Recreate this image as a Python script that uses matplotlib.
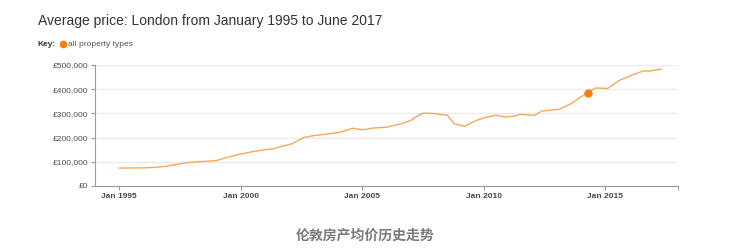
import matplotlib.pyplot as plt
from matplotlib.lines import Line2D
from matplotlib.ticker import FuncFormatter

# 年（小数）と平均価格
years = [1995.0, 1995.5, 1996.0, 1996.5, 1996.9, 1997.2, 1997.7, 1998.0, 1998.4,
         1999.0, 1999.5, 2000.0, 2000.5, 2001.0, 2001.3, 2001.6, 2002.1, 2002.6,
         2003.0, 2003.5, 2004.1, 2004.6, 2005.0, 2005.4, 2006.0, 2006.6, 2007.0,
         2007.2, 2007.5, 2007.9, 2008.5, 2008.8, 2009.2, 2009.7, 2010.1, 2010.5,
         2010.9, 2011.2, 2011.5, 2012.1, 2012.4, 2013.1, 2013.6, 2014.0, 2014.3,
         2014.6, 2015.1, 2015.6, 2016.2, 2016.6, 2016.8, 2017.3]
prices = [74000, 74500, 75000, 77000, 81000, 87000, 95000, 98000, 101000,
          105000, 120000, 132000, 142000, 150000, 153000, 162000, 174000, 201000,
          208000, 214000, 222000, 239000, 232000, 239000, 243000, 257000, 271000,
          285000, 301000, 300000, 292000, 257000, 247000, 271000, 284000, 292000,
          285000, 288000, 296000, 292000, 310000, 317000, 340000, 368000, 386000,
          405000, 403000, 437000, 462000, 476000, 475000, 483000]
highlight_year = 2014.3
highlight_price = 386000
tick_years = [1995, 2000, 2005, 2010, 2015]
tick_labels = ["Jan 1995", "Jan 2000", "Jan 2005", "Jan 2010", "Jan 2015"]
y_ticks = [0, 100000, 200000, 300000, 400000, 500000]

plt.rcParams['font.family'] = ['Liberation Sans', 'DejaVu Sans']

fig = plt.figure(figsize=(7.29, 2.52), dpi=100)
ax = fig.add_axes([95 / 729, 1 - 186 / 252, (678 - 95) / 729, (186 - 65) / 252])

# 折れ線とハイライト点
ax.plot(years, prices, color="#f6a858", linewidth=1.0, zorder=3)
ax.plot([highlight_year], [highlight_price], "o", color="#f57f0f", markersize=5, zorder=4)

ax.set_xlim(1994.0, 2018.0)
ax.set_ylim(0, 500000)
ax.set_xticks(tick_years + [2018.0])
ax.set_xticklabels(tick_labels + [""])
ax.set_yticks(y_ticks)
ax.yaxis.set_major_formatter(FuncFormatter(lambda v, p: "£{:,.0f}".format(v)))

ax.grid(axis="y", color="#ebebeb", linewidth=1)
ax.set_axisbelow(True)
for s in ["top", "right"]:
    ax.spines[s].set_visible(False)
for s in ["left", "bottom"]:
    ax.spines[s].set_color("#9a9a9a")
    ax.spines[s].set_linewidth(0.8)
ax.tick_params(axis="both", colors="#9a9a9a", labelcolor="#4a4a4a", labelsize=6, length=3, width=0.8, pad=2)
for lab in ax.get_xticklabels():
    lab.set_fontweight("bold")

# タイトルと凡例
fig.text(38 / 729, 1 - 21 / 252, "Average price: London from January 1995 to June 2017",
         fontsize=10, color="#333333", va="center", ha="left")
fig.text(38 / 729, 1 - 44 / 252, "Key:", fontsize=6, fontweight="bold", color="#333333",
         va="center", ha="left")
fig.add_artist(Line2D([62.5 / 729], [1 - 44 / 252], transform=fig.transFigure, marker="o",
                      markersize=4.5, color="#f57f0f", linestyle="none"))
fig.text(68.5 / 729, 1 - 44 / 252, "all property types", fontsize=6, color="#555555",
         va="center", ha="left")

# キャプション
fig.text(365 / 729, 1 - 236 / 252, "伦敦房产均价历史走势", fontsize=10, fontweight="bold",
         color="#7a7a7a", va="center", ha="center", family=["Noto Sans CJK SC", "DejaVu Sans"])

plt.savefig("out.png", dpi=100)
